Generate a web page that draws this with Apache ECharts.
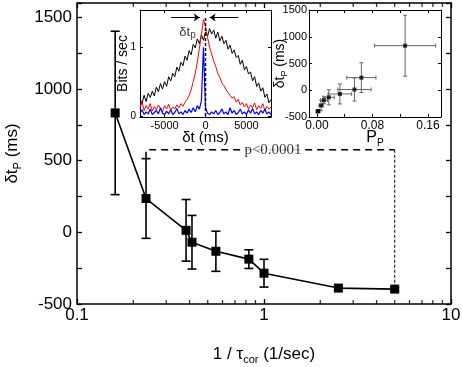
<!DOCTYPE html>
<html>
<head>
<meta charset="utf-8">
<script src="https://cdn.jsdelivr.net/npm/echarts@6/dist/echarts.min.js"></script>
<style>
html, body { margin: 0; background: #fff; }
#chart { width: 462px; height: 367px; }
</style>
</head>
<body>
<div id="chart"></div>
<script>
// main panel: shift vs 1/tau
var rate = [0.16, 0.234, 0.383, 0.412, 0.553, 0.83, 1.0, 2.5, 5.0];
var shift = [833, 236, 14, -69, -132, -187, -285, -389, -396];
var shiftErr = [570, 278, 215, 187, 140, 65, 97, 22, 12];
var rateMinorTicks = [0.2, 0.3, 0.4, 0.5, 0.6, 0.7, 0.8, 0.9, 2, 3, 4, 5, 6, 7, 8, 9];

// right inset: shift vs P_P
var prob = [0.127, 0.064, 0.054, 0.033, 0.017, 0.010, 0.006, 0.002, 0.001];
var probErr = [0.044, 0.021, 0.024, 0.017, 0.008, 0.005, 0.003, 0.001, 0.001];
var probTicks = [0, 0.08, 0.16];
var probMinorTicks = [0, 0.04, 0.08, 0.12, 0.16];

// left inset: cross-correlograms
var lagStart = -8000, lagStep = 250;
var blackTrace = [0.25, 0.18, 0.30, 0.21, 0.33, 0.27, 0.36, 0.29, 0.42, 0.35, 0.47, 0.39, 0.50, 0.43, 0.57, 0.51,
  0.62, 0.57, 0.71, 0.65, 0.78, 0.73, 0.87, 0.81, 0.95, 0.89, 1.04, 0.99, 1.12, 1.05, 1.18, 1.10,
  1.22, 1.16, 1.27, 1.19, 1.25, 1.13, 1.22, 1.09, 1.16, 1.05, 1.10, 0.97, 1.03, 0.91, 0.96, 0.85,
  0.88, 0.75, 0.81, 0.67, 0.72, 0.61, 0.64, 0.51, 0.57, 0.43, 0.48, 0.36, 0.41, 0.27, 0.32, 0.19, 0.24];
var redTrace = [0.12, 0.20, 0.08, 0.15, 0.10, 0.18, 0.07, 0.14, 0.09, 0.16, 0.11, 0.06, 0.15, 0.10, 0.17, 0.08,
  0.13, 0.10, 0.16, 0.12, 0.18, 0.14, 0.20, 0.24, 0.30, 0.38, 0.50, 0.62, 0.78, 0.98, 1.18, 1.40,
  1.30, 1.14, 1.00, 0.90, 0.80, 0.72, 0.62, 0.56, 0.48, 0.44, 0.38, 0.34, 0.30, 0.26, 0.28, 0.20,
  0.24, 0.16, 0.20, 0.13, 0.18, 0.10, 0.16, 0.12, 0.19, 0.09, 0.15, 0.11, 0.18, 0.08, 0.14, 0.10, 0.13];
var blueTrace = [0.04, 0.09, 0.02, 0.06, 0.03, 0.10, 0.02, 0.05, 0.08, 0.03, 0.12, 0.04, 0.02, 0.07, 0.03, 0.09,
  0.02, 0.05, 0.11, 0.03, 0.06, 0.02, 0.08, 0.04, 0.10, 0.05, 0.12, 0.06, 0.15, 0.10, 0.22, 1.00,
  0.12, 0.04, 0.02, 0.06, 0.03, 0.08, 0.02, 0.05, 0.10, 0.03, 0.06, 0.02, 0.12, 0.04, 0.08, 0.02,
  0.05, 0.10, 0.03, 0.06, 0.02, 0.09, 0.04, 0.11, 0.03, 0.06, 0.02, 0.08, 0.04, 0.10, 0.03, 0.06, 0.02];
var lagTicks = [-5000, 0, 5000];
var bitsTicks = [0, 1];

// annotations
var bracket = [[0.234, 514], [0.234, 576], [5, 576]];
var bracketDrop = [[5, 576], [5, -380]];
var pLabel = [1.117, 576];
var zeroLag = [[0, 0], [0, 1.43]];
var arrows = [[[-4200, 1.43], [-700, 1.43]], [[4000, 1.43], [500, 1.43]]];
var dtLabel = [-2200, 1.22];

var FONT = 'Liberation Sans';
var myChart = echarts.init(document.getElementById('chart'), null, { renderer: 'canvas' });

function traceData (vals) {
  return vals.map(function (v, i) { return [lagStart + i * lagStep, v]; });
}

function plain (v) { return String(v); }

function errorBars (capHalf, color, width, withX) {
  return function (params, api) {
    var x = api.value(0), y = api.value(1);
    var dx = withX ? api.value(2) : 0;
    var dy = withX ? api.value(3) : api.value(2);
    var style = { stroke: color, lineWidth: width, fill: null };
    var top = api.coord([x, y + dy]);
    var bot = api.coord([x, y - dy]);
    var kids = [
      { type: 'line', shape: { x1: top[0], y1: top[1], x2: bot[0], y2: bot[1] }, style: style },
      { type: 'line', shape: { x1: top[0] - capHalf, y1: top[1], x2: top[0] + capHalf, y2: top[1] }, style: style },
      { type: 'line', shape: { x1: bot[0] - capHalf, y1: bot[1], x2: bot[0] + capHalf, y2: bot[1] }, style: style }
    ];
    if (withX) {
      var l = api.coord([x - dx, y]);
      var r = api.coord([x + dx, y]);
      kids.push(
        { type: 'line', shape: { x1: l[0], y1: l[1], x2: r[0], y2: r[1] }, style: style },
        { type: 'line', shape: { x1: l[0], y1: l[1] - capHalf, x2: l[0], y2: l[1] + capHalf }, style: style },
        { type: 'line', shape: { x1: r[0], y1: r[1] - capHalf, x2: r[0], y2: r[1] + capHalf }, style: style }
      );
    }
    return { type: 'group', children: kids };
  };
}

var blackLine = { show: true, onZero: false, lineStyle: { color: '#000', width: 1.5 } };
var thinLine = { show: true, onZero: false, lineStyle: { color: '#000', width: 1 } };
var hiddenLabel = { show: false };
var labelPoint = { symbol: 'circle', symbolSize: 1, itemStyle: { color: 'rgba(0,0,0,0)' }, silent: true };

var option = {
  animation: false,
  textStyle: { fontFamily: FONT, color: '#000' },
  grid: [
    { left: 77, top: 3, width: 374, height: 301, outerBoundsMode: 'none', containLabel: false },
    { left: 140, top: 10, width: 131, height: 107, outerBoundsMode: 'none', containLabel: false },
    { left: 309, top: 10, width: 132, height: 107, outerBoundsMode: 'none', containLabel: false }
  ],
  xAxis: [
    {
      gridIndex: 0, type: 'log', logBase: 10, min: 0.1, max: 10, position: 'bottom',
      axisLine: blackLine,
      axisTick: { inside: true, length: 5, lineStyle: { width: 1.3 } },
      axisLabel: { fontSize: 17, color: '#000', margin: 3, formatter: plain },
      splitLine: { show: false },
      name: '1 / τ{s|cor} (1/sec)', nameLocation: 'middle', nameGap: 40, nameMoveOverlap: false,
      nameTextStyle: { fontSize: 17, color: '#000', rich: { s: { fontSize: 11, padding: [10, 0, 0, 0] } } }
    },
    {
      gridIndex: 0, type: 'log', logBase: 10, min: 0.1, max: 10, position: 'top',
      axisLine: blackLine,
      axisTick: { inside: true, length: 5, lineStyle: { width: 1.3 } },
      axisLabel: hiddenLabel, splitLine: { show: false }
    },
    {
      gridIndex: 1, type: 'value', min: -8000, max: 8000, position: 'bottom',
      axisLine: thinLine,
      axisTick: { inside: true, length: 3, customValues: lagTicks },
      axisLabel: { fontSize: 11, color: '#000', margin: 3, customValues: lagTicks, formatter: plain },
      splitLine: { show: false },
      name: 'δt (ms)', nameLocation: 'middle', nameGap: 13, nameMoveOverlap: false,
      nameTextStyle: { fontSize: 15, color: '#000' }
    },
    {
      gridIndex: 1, type: 'value', min: -8000, max: 8000, position: 'top',
      axisLine: thinLine,
      axisTick: { inside: true, length: 3, customValues: lagTicks },
      axisLabel: hiddenLabel, splitLine: { show: false }
    },
    {
      gridIndex: 2, type: 'value', min: -0.0115, max: 0.1787, position: 'bottom',
      axisLine: thinLine,
      axisTick: { inside: true, length: 3, customValues: probMinorTicks },
      axisLabel: { fontSize: 12, color: '#000', margin: 3, customValues: probTicks,
        formatter: function (v) { return v.toFixed(2); } },
      splitLine: { show: false },
      name: 'P{s|P}', nameLocation: 'middle', nameGap: 11, nameMoveOverlap: false,
      nameTextStyle: { fontSize: 16, color: '#000', rich: { s: { fontSize: 10, padding: [10, 0, 0, 0] } } }
    },
    {
      gridIndex: 2, type: 'value', min: -0.0115, max: 0.1787, position: 'top',
      axisLine: thinLine,
      axisTick: { inside: true, length: 3, customValues: probMinorTicks },
      axisLabel: hiddenLabel, splitLine: { show: false }
    }
  ],
  yAxis: [
    {
      gridIndex: 0, type: 'value', min: -500, max: 1600, interval: 500, position: 'left',
      axisLine: blackLine,
      axisTick: { inside: true, length: 5, lineStyle: { width: 1.3 } },
      minorTick: { show: true, splitNumber: 2, length: 5, lineStyle: { color: '#000', width: 1.3 } },
      axisLabel: { fontSize: 17, color: '#000', margin: 5, showMaxLabel: false, formatter: plain },
      splitLine: { show: false },
      name: 'δt{s|P} (ms)', nameLocation: 'middle', nameGap: 54, nameMoveOverlap: false,
      nameTextStyle: { fontSize: 17, color: '#000', rich: { s: { fontSize: 11, padding: [10, 0, 0, 0] } } }
    },
    {
      gridIndex: 0, type: 'value', min: -500, max: 1600, interval: 500, position: 'right',
      axisLine: blackLine,
      axisTick: { inside: true, length: 5, lineStyle: { width: 1.3 } },
      minorTick: { show: true, splitNumber: 2, length: 5, lineStyle: { color: '#000', width: 1.3 } },
      axisLabel: hiddenLabel, splitLine: { show: false }
    },
    {
      gridIndex: 1, type: 'value', min: -0.015, max: 1.54, position: 'left',
      axisLine: thinLine,
      axisTick: { inside: true, length: 3, customValues: bitsTicks },
      axisLabel: { fontSize: 10, color: '#000', margin: 4, customValues: bitsTicks, formatter: plain },
      splitLine: { show: false },
      name: 'Bits / sec', nameLocation: 'middle', nameGap: 10, nameMoveOverlap: false,
      nameTextStyle: { fontSize: 14, color: '#000' }
    },
    {
      gridIndex: 1, type: 'value', min: -0.015, max: 1.54, position: 'right',
      axisLine: thinLine,
      axisTick: { inside: true, length: 3, customValues: bitsTicks },
      axisLabel: hiddenLabel, splitLine: { show: false }
    },
    {
      gridIndex: 2, type: 'value', min: -500, max: 1500, interval: 500, position: 'left',
      axisLine: thinLine,
      axisTick: { inside: true, length: 3 },
      axisLabel: { fontSize: 11, color: '#000', margin: 2, formatter: plain },
      splitLine: { show: false },
      name: 'δt{s|P} (ms)', nameLocation: 'middle', nameGap: 20, nameMoveOverlap: false,
      nameTextStyle: { fontSize: 14, color: '#000', rich: { s: { fontSize: 9, padding: [8, 0, 0, 0] } } }
    },
    {
      gridIndex: 2, type: 'value', min: -500, max: 1500, interval: 500, position: 'right',
      axisLine: thinLine,
      axisTick: { inside: true, length: 3 },
      axisLabel: hiddenLabel, splitLine: { show: false }
    }
  ],
  series: [
    // main panel: log minor ticks, bottom and top edges
    {
      type: 'scatter', xAxisIndex: 0, yAxisIndex: 0, silent: true, clip: false,
      data: rateMinorTicks.map(function (v) { return [v, -500]; }),
      symbol: 'rect', symbolSize: [1.3, 4], symbolOffset: [0, -2],
      itemStyle: { color: '#000' }
    },
    {
      type: 'scatter', xAxisIndex: 0, yAxisIndex: 0, silent: true, clip: false,
      data: rateMinorTicks.map(function (v) { return [v, 1600]; }),
      symbol: 'rect', symbolSize: [1.3, 4], symbolOffset: [0, 2],
      itemStyle: { color: '#000' }
    },
    {
      type: 'custom', xAxisIndex: 0, yAxisIndex: 0,
      renderItem: errorBars(4.5, '#000', 1.6, false),
      data: rate.map(function (r, i) { return [r, shift[i], shiftErr[i]]; }),
      z: 3
    },
    {
      type: 'line', xAxisIndex: 0, yAxisIndex: 0,
      data: rate.map(function (r, i) { return [r, shift[i]]; }),
      symbol: 'rect', symbolSize: 9,
      itemStyle: { color: '#000' },
      lineStyle: { color: '#000', width: 1.6 },
      z: 4
    },
    {
      type: 'line', xAxisIndex: 0, yAxisIndex: 0, data: bracket,
      showSymbol: false, symbol: 'none',
      lineStyle: { color: '#000', width: 1.6, type: [7, 5] }
    },
    {
      type: 'line', xAxisIndex: 0, yAxisIndex: 0, data: bracketDrop,
      showSymbol: false, symbol: 'none',
      lineStyle: { color: '#000', width: 1, type: [3, 2] }
    },
    Object.assign({
      type: 'scatter', xAxisIndex: 0, yAxisIndex: 0, data: [pLabel], z: 5,
      label: { show: true, position: 'inside', formatter: 'p<0.0001',
        fontFamily: 'Liberation Serif', fontSize: 15, color: '#000',
        backgroundColor: '#fff', padding: [0, 2] }
    }, labelPoint),
    // left inset
    {
      type: 'line', xAxisIndex: 2, yAxisIndex: 2, data: traceData(blackTrace),
      showSymbol: false, symbol: 'none', lineStyle: { color: '#000', width: 1 }
    },
    {
      type: 'line', xAxisIndex: 2, yAxisIndex: 2, data: traceData(redTrace),
      showSymbol: false, symbol: 'none', lineStyle: { color: '#ff0000', width: 1 }
    },
    {
      type: 'line', xAxisIndex: 2, yAxisIndex: 2, data: traceData(blueTrace),
      showSymbol: false, symbol: 'none', lineStyle: { color: '#0000ff', width: 1.2 }
    },
    {
      type: 'line', xAxisIndex: 2, yAxisIndex: 2, data: zeroLag,
      showSymbol: false, symbol: 'none', lineStyle: { color: '#000', width: 1.5, type: [3, 2] }, z: 5
    },
    {
      type: 'lines', coordinateSystem: 'cartesian2d', xAxisIndex: 2, yAxisIndex: 2,
      data: arrows.map(function (c) { return { coords: c }; }),
      symbol: ['none', 'arrow'], symbolSize: 6,
      lineStyle: { color: '#000', width: 1, opacity: 1 }, z: 5
    },
    Object.assign({
      type: 'scatter', xAxisIndex: 2, yAxisIndex: 2, data: [dtLabel], z: 5,
      label: { show: true, position: 'inside', formatter: 'δt{s|p}',
        fontSize: 13, color: '#000',
        rich: { s: { fontSize: 10, padding: [7, 0, 0, 0] } } }
    }, labelPoint),
    // right inset
    {
      type: 'custom', xAxisIndex: 4, yAxisIndex: 4,
      renderItem: errorBars(2, '#666', 1, true),
      data: prob.map(function (p, i) { return [p, shift[i], probErr[i], shiftErr[i]]; }),
      z: 3
    },
    {
      type: 'scatter', xAxisIndex: 4, yAxisIndex: 4,
      data: prob.map(function (p, i) { return [p, shift[i]]; }),
      symbol: 'rect', symbolSize: 4, itemStyle: { color: '#000' }, z: 4
    }
  ]
};

myChart.setOption(option);
</script>
</body>
</html>
